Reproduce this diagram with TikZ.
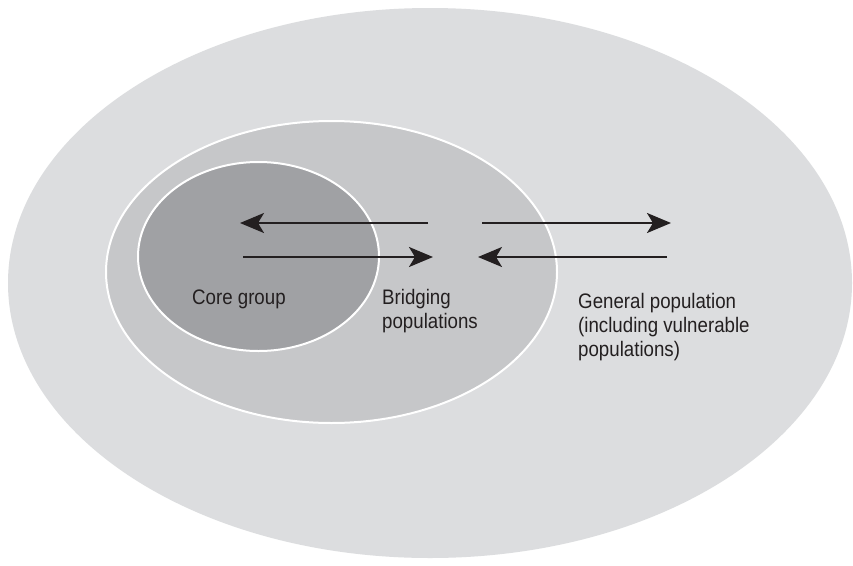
\documentclass[tikz,border=0pt]{standalone}
\usepackage{fontspec}
\setmainfont{Liberation Sans}[FakeStretch=0.89]
\usetikzlibrary{arrows.meta,shapes.geometric}
\definecolor{outerfill}{RGB}{220,221,223}
\definecolor{midfill}{RGB}{198,199,201}
\definecolor{innerfill}{RGB}{160,161,164}
\definecolor{ink}{RGB}{35,31,32}
\tikzset{
  ring/.style={ellipse, inner sep=0pt, draw=white, line width=2pt},
  flow/.style={draw=ink, line width=2.2pt, -{Stealth[length=24pt, width=20pt, inset=6pt]}},
  label/.style={inner sep=0pt, text=ink, font=\fontsize{21}{23.8}\selectfont, align=left, anchor=base west}
}
\begin{document}
\begin{tikzpicture}[x=1pt,y=-1pt]
\useasboundingbox (0,0) rectangle (853,565);
\fill[white] (0,0) rectangle (853,565);
\node[ellipse, inner sep=0pt, fill=outerfill, minimum width=844pt, minimum height=550pt] (general) at (430,283) {};
\node[ring, fill=midfill, minimum width=451pt, minimum height=302pt] (bridging) at (331.5,272) {};
\node[ring, fill=innerfill, minimum width=241pt, minimum height=189pt] (core) at (258.5,256.5) {};
% arrow end points
\coordinate (a1s) at (428,223);
\coordinate (a1e) at (240,223);
\coordinate (a2s) at (243,257);
\coordinate (a2e) at (433,257);
\coordinate (a3s) at (482,223);
\coordinate (a3e) at (671,223);
\coordinate (a4s) at (667,257);
\coordinate (a4e) at (478,257);
\draw[flow] (a1s) -- (a1e);
\draw[flow] (a2s) -- (a2e);
\draw[flow] (a3s) -- (a3e);
\draw[flow] (a4s) -- (a4e);
% multi-line labels: base anchor is the baseline of the last line
\node[label] (coretext) at (192,304) {Core group};
\node[label] (bridgetext) at (382,328) {Bridging\\populations};
\node[label] (generaltext) at (578,356.5) {General population\\(including vulnerable\\populations)};
\end{tikzpicture}
\end{document}
